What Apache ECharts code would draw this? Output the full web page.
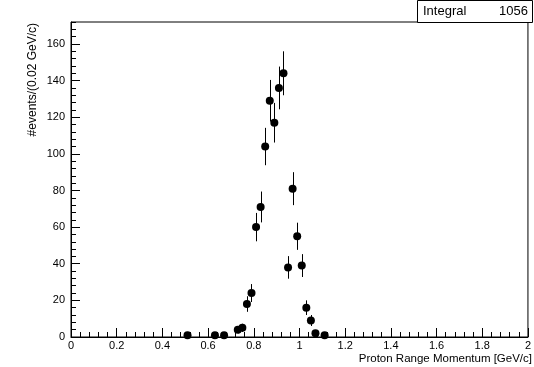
<!DOCTYPE html>
<html>
<head>
<meta charset="utf-8">
<script src="https://cdn.jsdelivr.net/npm/echarts@6/dist/echarts.min.js"></script>
<style>
  html, body { margin: 0; padding: 0; background: #fff; }
  #chart { width: 534px; height: 367px; }
</style>
</head>
<body>
<div id="chart"></div>
<script>
// Bin centres (GeV/c), 0.02 GeV/c wide bins; empty bins are not drawn
const binCenters = [0.51, 0.63, 0.67, 0.73, 0.75, 0.77, 0.79, 0.81, 0.83, 0.85, 0.87,
                    0.89, 0.91, 0.93, 0.95, 0.97, 0.99, 1.01, 1.03, 1.05, 1.07, 1.11];
// Entries per bin
const binCounts = [1, 1, 1, 4, 5, 18, 24, 60, 71, 104, 129,
                   117, 136, 144, 38, 81, 55, 39, 16, 9, 2, 1];
// Axis ranges and tick steps
const xRange = [0, 2];
const yRange = [0, 172];
const xMajorStep = 0.2;
const yMajorStep = 20;
const yMinorStep = 4;
const integralLabel = 'Integral';
const integralValue = binCounts.reduce((a, b) => a + b, 0);

const FONT = '"Liberation Sans", Arial, Helvetica, sans-serif';

const points = binCenters.map((x, i) => [x, binCounts[i]]);
// Poisson uncertainty on each bin
const errors = binCenters.map((x, i) => [x, binCounts[i] - Math.sqrt(binCounts[i]), binCounts[i] + Math.sqrt(binCounts[i])]);

const chart = echarts.init(document.getElementById('chart'), null, { renderer: 'canvas' });

chart.setOption({
  animation: false,
  backgroundColor: '#fff',
  grid: {
    left: 71, right: 1, top: 22, bottom: 30,
    show: true, borderColor: '#000', borderWidth: 1, backgroundColor: 'transparent'
  },
  xAxis: {
    type: 'value',
    min: xRange[0], max: xRange[1], interval: xMajorStep,
    axisLine: { show: true, onZero: false, lineStyle: { color: '#000', width: 1 } },
    axisTick: { show: true, inside: true, length: 9, lineStyle: { color: '#000' } },
    minorTick: { show: true, splitNumber: 5, length: 5, lineStyle: { color: '#000' } },
    splitLine: { show: false },
    axisLabel: { margin: 3, fontSize: 11, fontFamily: FONT, color: '#000',
                 formatter: v => String(+v.toFixed(1)) }
  },
  yAxis: [
    {
      type: 'value',
      position: 'left',
      min: yRange[0], max: yRange[1], interval: yMajorStep,
      axisLine: { show: true, onZero: false, lineStyle: { color: '#000', width: 1 } },
      axisTick: { show: true, inside: true, length: 9, lineStyle: { color: '#000' } },
      splitLine: { show: false },
      axisLabel: { margin: 6, fontSize: 11, fontFamily: FONT, color: '#000',
                   showMaxLabel: false,
                   formatter: v => (v % yMajorStep === 0 ? String(v) : '') }
    },
    {
      type: 'value',
      position: 'left',
      min: yRange[0], max: yRange[1], interval: yMinorStep,
      axisLine: { show: false },
      axisTick: { show: true, inside: true, length: 5, lineStyle: { color: '#000' } },
      splitLine: { show: false },
      axisLabel: { show: false }
    }
  ],
  series: [
    {
      type: 'custom',
      yAxisIndex: 0,
      data: errors,
      z: 2,
      renderItem: function (params, api) {
        const x = api.value(0);
        const p0 = api.coord([x, api.value(1)]);
        const p1 = api.coord([x, api.value(2)]);
        return {
          type: 'line',
          shape: { x1: Math.round(p0[0]) + 0.5, y1: p0[1], x2: Math.round(p1[0]) + 0.5, y2: p1[1] },
          style: { stroke: '#000', lineWidth: 1 }
        };
      }
    },
    {
      type: 'scatter',
      yAxisIndex: 0,
      data: points,
      symbol: 'circle',
      symbolSize: 8,
      itemStyle: { color: '#000', opacity: 1 },
      z: 3
    }
  ],
  graphic: [
    {
      type: 'rect',
      shape: { x: 417.5, y: 0.5, width: 115, height: 22 },
      style: { fill: '#fff', stroke: '#000', lineWidth: 1 },
      z: 10
    },
    {
      type: 'text',
      x: 423, y: 11,
      style: { text: integralLabel, font: '13px ' + FONT, fill: '#000', textAlign: 'left', textVerticalAlign: 'middle' },
      z: 11
    },
    {
      type: 'text',
      x: 528, y: 11,
      style: { text: String(integralValue), font: '13px ' + FONT, fill: '#000', textAlign: 'right', textVerticalAlign: 'middle' },
      z: 11
    },
    {
      type: 'text',
      x: 532, y: 359,
      style: { text: 'Proton Range Momentum [GeV/c]', font: '11.5px ' + FONT, fill: '#000', textAlign: 'right', textVerticalAlign: 'middle' },
      z: 11
    },
    {
      type: 'text',
      x: 33, y: 23,
      rotation: Math.PI / 2,
      style: { text: '#events/(0.02 GeV/c)', font: '12px ' + FONT, fill: '#000', textAlign: 'right', textVerticalAlign: 'middle' },
      z: 11
    }
  ]
});
</script>
</body>
</html>
